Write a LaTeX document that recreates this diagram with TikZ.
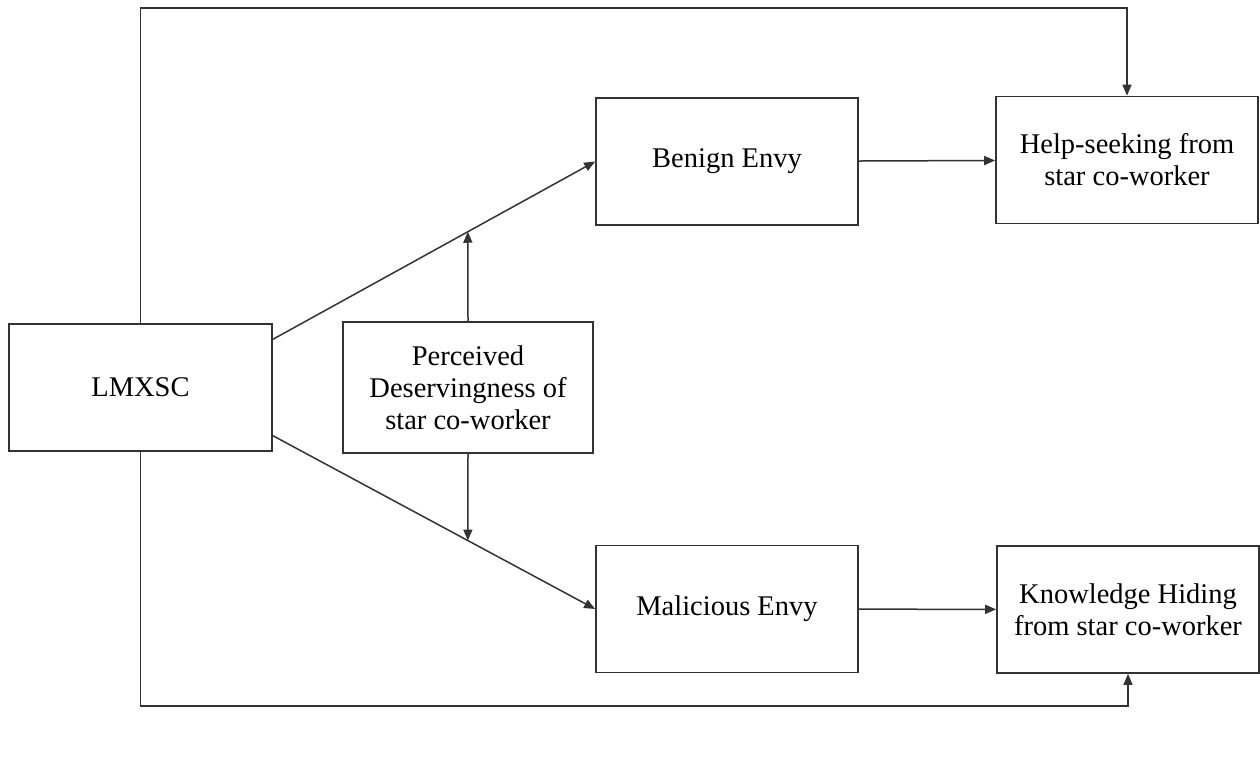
\documentclass[tikz,border=0pt]{standalone}
\usepackage{fontspec}
\setmainfont{Liberation Serif}
\usetikzlibrary{arrows.meta}
\begin{document}
\begin{tikzpicture}[x=1pt,y=-1pt]
\tikzset{path/.style={-{Triangle[length=11pt,width=9pt]},line width=1.5pt,draw=black!80}}
\tikzstyle{box}=[draw=black!80,line width=1.7pt,rectangle,minimum width=262pt,minimum height=127pt,align=center,inner sep=0pt,font=\fontsize{28.5}{32}\selectfont]
\useasboundingbox (0,0) rectangle (1260,764);
\node[box,minimum width=263pt] (lmxsc)at(140.5,387.5){LMXSC};
\node[box,minimum width=250pt,minimum height=131pt] (perc)at(468,387.5){Perceived\\Deservingness of\\star co-worker};
\node[box] (benign)at(727,161.5){Benign Envy};
\node[box] (malic)at(727,609){Malicious Envy};
\node[box] (help)at(1127,160){Help-seeking from\\star co-worker};
\node[box] (know)at(1128,609.5){Knowledge Hiding\\from star co-worker};
\coordinate (top)at(0,8);
\coordinate (bot)at(0,706);
\draw[path] (lmxsc.20.6)--coordinate[pos=0.605](m1)(benign.west);
\draw[path] (lmxsc.-20.6)--coordinate[pos=0.605](m2)(malic.west);
\draw[path] (perc.north)--(m1);
\draw[path] (perc.south)--(m2);
\draw[path] (benign)--(help);
\draw[path] (malic)--(know);
\draw[path] (lmxsc.north)--(lmxsc.north|-top)-|(help.north);
\draw[path] (lmxsc.south)--(lmxsc.south|-bot)-|(know.south);
\end{tikzpicture}
\end{document}
